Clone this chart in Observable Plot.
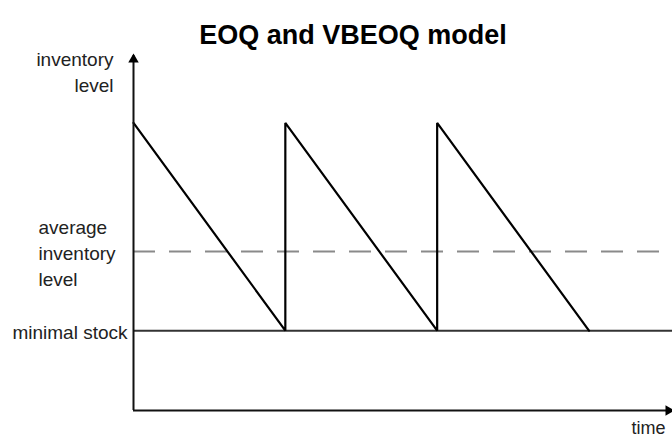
<!DOCTYPE html>
<html>
<head>
<meta charset="utf-8">
<script src="https://cdn.jsdelivr.net/npm/d3@7"></script>
<script src="https://cdn.jsdelivr.net/npm/@observablehq/plot@0.6"></script>
<style>
  html, body { margin: 0; padding: 0; background: #fff; }
  #chart { width: 672px; height: 440px; }
</style>
</head>
<body>
<div id="chart"></div>
<script>
// Sawtooth inventory curve (time in order cycles, level in arbitrary units)
const sawTime  = [0, 1, 1, 2, 2, 3];
const sawLevel = [81, 22.5, 81, 22.5, 81, 22.5];

const minimalStock = 22.5;
const averageLevel = 44.8;
const axisTop = 100;
const timeEnd = 3.55;

const titleText = "EOQ and VBEOQ model";
const yLabels = [
  {lines: ["inventory", "level"], level: 100, anchor: "end"},
  {lines: ["average", "inventory", "level"], level: averageLevel, anchor: "start"},
  {lines: ["minimal stock"], level: minimalStock, anchor: "end"}
];
const xLabel = "time";

const saw = sawTime.map((t, i) => ({t, level: sawLevel[i]}));

const textColor = "#222";
const font = "'Liberation Sans', Arial, sans-serif";

const labelMarks = yLabels.map(l => Plot.text([l.lines.join("\n")], {
  x: 0, y: () => l.level,
  text: d => d,
  textAnchor: l.anchor,
  lineHeight: 1.37,
  dx: l.anchor === "end" ? (l.lines.length === 1 ? -6 : -20) : -95,
  dy: l.lines.length === 2 ? 15 : 0,
  fontSize: 19,
  fill: textColor
}));

const chart = Plot.plot({
  width: 672,
  height: 440,
  marginTop: 55,
  marginBottom: 30,
  marginLeft: 133,
  marginRight: 0,
  style: {fontFamily: font, background: "#fff", overflow: "visible"},
  x: {domain: [0, timeEnd], axis: null},
  y: {domain: [0, axisTop], axis: null},
  marks: [
    // dashed average level
    Plot.ruleY([averageLevel], {x1: 0, x2: timeEnd, stroke: "#8a8a8a", strokeWidth: 2, strokeDasharray: "22,14"}),
    // minimal stock
    Plot.ruleY([minimalStock], {x1: 0, x2: timeEnd, stroke: "#333", strokeWidth: 2}),
    // sawtooth
    Plot.line(saw, {x: "t", y: "level", stroke: "#000", strokeWidth: 2.2, strokeLinejoin: "miter"}),
    // axes
    Plot.ruleX([0], {y1: 0, y2: axisTop, stroke: "#111", strokeWidth: 2}),
    Plot.ruleY([0], {x1: 0, x2: timeEnd, stroke: "#111", strokeWidth: 2}),
    // arrowheads
    Plot.dot([0], {x: 0, y: () => axisTop, symbol: "triangle2", r: 5, fill: "#000", dy: 4}),
    Plot.dot([0], {x: () => timeEnd, y: 0, symbol: "triangle2", r: 5, fill: "#000", rotate: 90, dx: -4}),
    // labels
    ...labelMarks,
    Plot.text([xLabel], {x: () => timeEnd, y: 0, text: d => d, dx: -24, dy: 18, fontSize: 18, fill: textColor}),
    Plot.text([titleText], {frameAnchor: "top", dx: -50, dy: -31, fontSize: 27, fontWeight: "bold", fill: "#000"})
  ]
});
document.getElementById("chart").appendChild(chart);
</script>
</body>
</html>
